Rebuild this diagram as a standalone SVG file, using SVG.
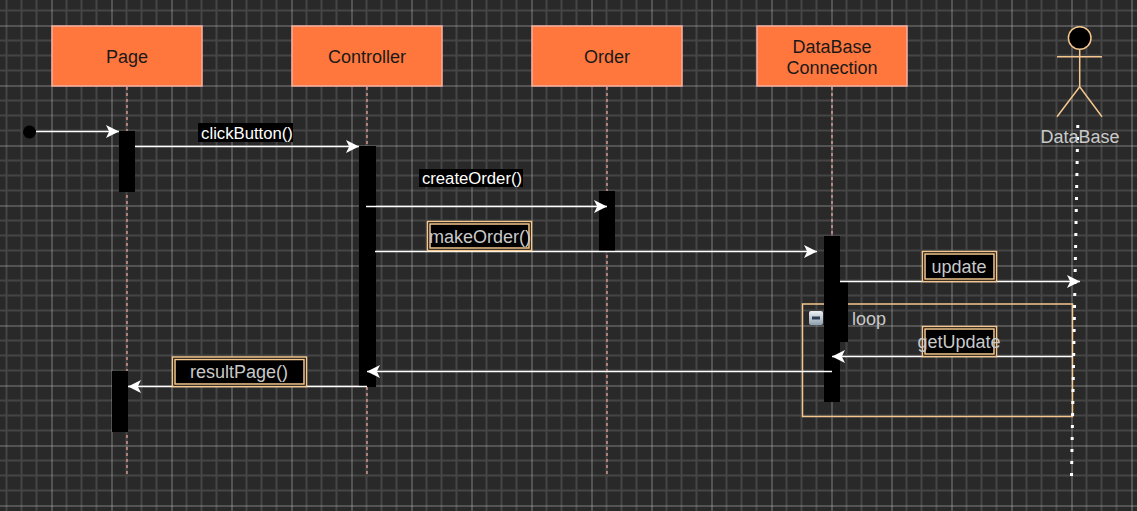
<svg xmlns="http://www.w3.org/2000/svg" width="1137" height="511" viewBox="0 0 1137 511">
<style>
text{font-family:"Liberation Sans",Arial,sans-serif;font-size:18px;text-anchor:middle}
.head rect{fill:#ff773d;stroke:#f8b0a0;stroke-width:1.5}
.head text{fill:#1a1a1a}
.life{stroke:#f8aca4;stroke-width:1.2;stroke-dasharray:3 3;fill:none}
.head rect.act{fill:#000;stroke:none}
.msg{stroke:#fff;stroke-width:1.5;fill:none;marker-end:url(#arrow)}
.tan{fill:none;stroke:#f5c78e;stroke-width:1.5}
.lab{fill:#000}
.w{fill:#fff;font-size:16.7px}
.g{fill:#c9c9c9}
</style>
<defs>
<pattern id="grid" width="60" height="60" patternUnits="userSpaceOnUse" x="-8.5" y="-34.5">
<path d="M0 15H60M0 30H60M0 45H60M15 0V60M30 0V60M45 0V60" stroke="#454545" stroke-width="2" fill="none"/>
<path d="M0 0H60M0 0V60" stroke="#d0d0d0" stroke-width="1" fill="none"/>
</pattern>
<marker id="arrow" markerUnits="userSpaceOnUse" markerWidth="16" markerHeight="16" refX="13" refY="7" orient="auto" overflow="visible">
<path d="M0 0.5L13 7L0 13.5L3.2 7Z" fill="#fff"/>
</marker>
<linearGradient id="ic" x1="0" y1="0" x2="0" y2="1"><stop offset="0" stop-color="#eef2f5"/><stop offset="1" stop-color="#8ea0ad"/></linearGradient>
</defs>
<rect width="1137" height="511" fill="#292929"/>
<rect width="1137" height="511" fill="url(#grid)"/>

<g id="frame-loop">
<rect class="tan" x="802.5" y="304" width="270" height="112.5"/>
<rect x="809" y="311" width="14" height="14" rx="2" fill="url(#ic)"/>
<rect x="812" y="316.5" width="8" height="3" fill="#2c3e50"/>
<text class="g" x="869" y="325">loop</text>
</g>

<g id="node-page" class="head">
<line class="life" x1="127" y1="87" x2="127" y2="477"/>
<rect x="52" y="26" width="150" height="60"/>
<text x="127" y="63">Page</text>
<rect class="act" x="119" y="131" width="16" height="61"/>
<rect class="act" x="112" y="371" width="16" height="61"/>
</g>
<g id="node-controller" class="head">
<line class="life" x1="367" y1="87" x2="367" y2="477"/>
<rect x="292" y="26" width="150" height="60"/>
<text x="367" y="63">Controller</text>
<rect class="act" x="359" y="146" width="17" height="241"/>
</g>
<g id="node-order" class="head">
<line class="life" x1="607" y1="87" x2="607" y2="477"/>
<rect x="532" y="26" width="150" height="60"/>
<text x="607" y="63">Order</text>
<rect class="act" x="599" y="191" width="16" height="60"/>
</g>
<g id="node-dbconn" class="head">
<line class="life" x1="832" y1="87" x2="832" y2="237"/>
<rect x="757" y="26" width="150" height="60"/>
<text x="832" y="53">DataBase</text>
<text x="832" y="74">Connection</text>
<rect class="act" x="824" y="236" width="16" height="166"/>
<rect class="act" x="832" y="282" width="16" height="60"/>
</g>
<g id="node-database">
<circle cx="1079.7" cy="38" r="11.3" fill="#000" stroke="#f5c78e" stroke-width="1.5"/>
<path class="tan" d="M1079.7 49.5V86.7M1057 56.7H1102M1057 116.7L1079.7 86.7L1102 116.7"/>
<line x1="1077.8" y1="125" x2="1071.5" y2="476" stroke="#fff" stroke-width="3" stroke-dasharray="3 9"/>
<text class="g" x="1080" y="143">DataBase</text>
</g>

<g id="connectors">
<circle cx="29.5" cy="132" r="6.5" fill="#000"/>
<line class="msg" x1="36" y1="131.5" x2="119" y2="131.5"/>
<line class="msg" x1="135" y1="146.5" x2="359" y2="146.5"/>
<line class="msg" x1="366" y1="206.5" x2="607" y2="206.5"/>
<line class="msg" x1="375" y1="251.5" x2="817" y2="251.5"/>
<line class="msg" x1="840" y1="281.5" x2="1080" y2="281.5"/>
<line class="msg" x1="1073" y1="356.5" x2="832" y2="356.5"/>
<line class="msg" x1="832" y1="371.5" x2="367" y2="371.5"/>
<line class="msg" x1="367" y1="386.5" x2="128" y2="386.5"/>
</g>

<g id="label-clickButton">
<rect class="lab" x="198" y="123" width="95" height="19"/>
<text class="w" x="247" y="138.500">clickButton()</text>
</g>
<g id="label-createOrder">
<rect class="lab" x="419" y="169" width="104" height="18"/>
<text class="w" x="472" y="184">createOrder()</text>
</g>
<g id="label-makeOrder">
<rect class="lab" x="427.5" y="221.5" width="104" height="29"/>
<rect class="tan" x="427.5" y="221.5" width="104" height="29"/>
<rect class="tan" x="430" y="224" width="99" height="24"/>
<text class="g" x="480" y="243">makeOrder()</text>
</g>
<g id="label-update">
<rect class="lab" x="922.5" y="251.5" width="74" height="30"/>
<rect class="tan" x="922.5" y="251.5" width="74" height="30"/>
<rect class="tan" x="925" y="254" width="69" height="25"/>
<text class="g" x="959" y="273">update</text>
</g>
<g id="label-getUpdate">
<rect class="lab" x="922.5" y="326.5" width="74" height="30"/>
<rect class="tan" x="922.5" y="326.5" width="74" height="30"/>
<rect class="tan" x="925" y="329" width="69" height="25"/>
<text class="g" x="959" y="348">getUpdate</text>
</g>
<g id="label-resultPage">
<rect class="lab" x="172.5" y="357" width="134" height="29.5"/>
<rect class="tan" x="172.5" y="357" width="134" height="29.5"/>
<rect class="tan" x="175" y="359.5" width="129" height="24.5"/>
<text class="g" x="239" y="378">resultPage()</text>
</g>
</svg>
